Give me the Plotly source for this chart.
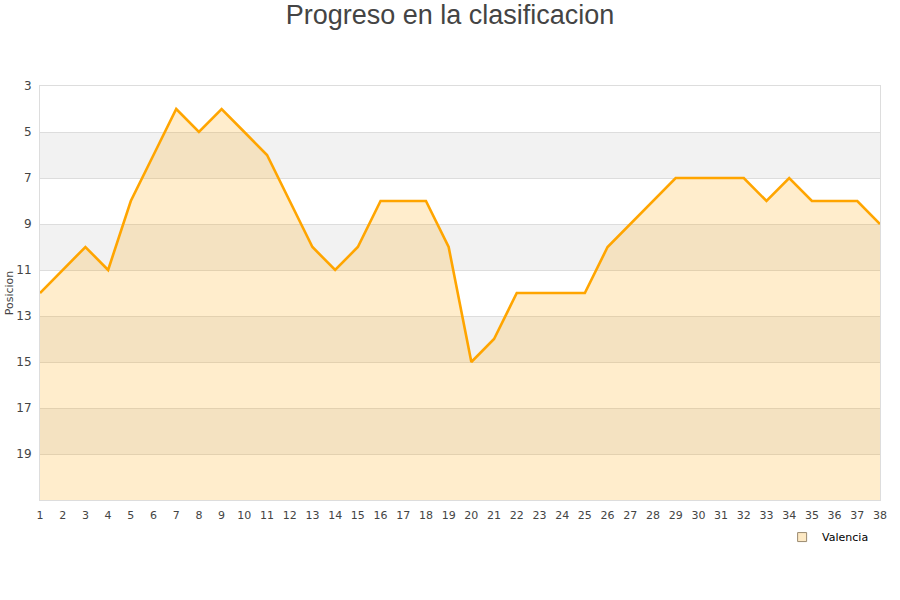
import plotly.graph_objects as go

jornadas = list(range(1, 39))
posiciones = [12, 11, 10, 11, 8, 6, 4, 5, 4, 5, 6, 8, 10, 11, 10, 8, 8, 8, 10, 15,
              14, 12, 12, 12, 12, 10, 9, 8, 7, 7, 7, 7, 8, 7, 8, 8, 8, 9]
y_ticks = [3, 5, 7, 9, 11, 13, 15, 17, 19]
y_bottom = 21
y_top = 3
bands = [(5, 7), (9, 11), (13, 15), (17, 19)]
equipo = "Valencia"

fig = go.Figure()

# baseline for fill
fig.add_trace(go.Scatter(x=jornadas, y=[y_bottom] * len(jornadas), mode="lines",
                         line=dict(width=0, color="rgba(0,0,0,0)"),
                         showlegend=False, hoverinfo="skip"))
fig.add_trace(go.Scatter(x=jornadas, y=posiciones, mode="lines", fill="tonexty",
                         fillcolor="rgba(255,165,0,0.2)",
                         line=dict(color="#FFA500", width=2.6),
                         name=equipo, showlegend=False))
# legend swatch
fig.add_trace(go.Scatter(x=[None], y=[None], mode="markers", name=equipo,
                         marker=dict(symbol="square", size=9, color="#fde9c4",
                                     line=dict(color="#9a8a70", width=1))))

shapes = []
for a, b in bands:
    shapes.append(dict(type="rect", xref="paper", yref="y", x0=0, x1=1, y0=a, y1=b,
                       fillcolor="#f2f2f2", line=dict(width=0), layer="below"))

fig.update_layout(
    width=900, height=600,
    paper_bgcolor="white", plot_bgcolor="white",
    margin=dict(l=40, r=20, t=86, b=100, autoexpand=False),
    title=dict(text="Progreso en la clasificacion", x=0.5, xanchor="center",
               y=0.975, yanchor="middle",
               font=dict(family="Liberation Sans, Arial", size=27, color="#444444")),
    shapes=shapes,
    xaxis=dict(range=[1, 38], tickvals=jornadas, showgrid=False, zeroline=False,
               automargin=False, ticklabelstandoff=5,
               showline=True, linecolor="#dddddd", mirror=True, ticks="",
               tickfont=dict(family="DejaVu Sans", size=11, color="#444444")),
    yaxis=dict(range=[y_bottom, y_top], tickvals=y_ticks, showgrid=True,
               automargin=False,
               gridcolor="#dddddd", gridwidth=1, zeroline=False,
               showline=True, linecolor="#dddddd", mirror=True, ticks="",
               ticklabelstandoff=5,
               title=dict(text="Posicion", standoff=0,
                          font=dict(family="DejaVu Sans", size=11, color="#444444")),
               tickfont=dict(family="DejaVu Sans", size=12, color="#444444")),
    legend=dict(orientation="h", x=0.993, xanchor="right", y=-0.0545, yanchor="top",
                bgcolor="rgba(255,255,255,0)",
                font=dict(family="DejaVu Sans", size=11, color="#000000"),
                itemwidth=30),
)

fig.write_html("out.html", config={"displayModeBar": False},
               post_script="document.body.style.margin='0';document.body.style.padding='0';")
